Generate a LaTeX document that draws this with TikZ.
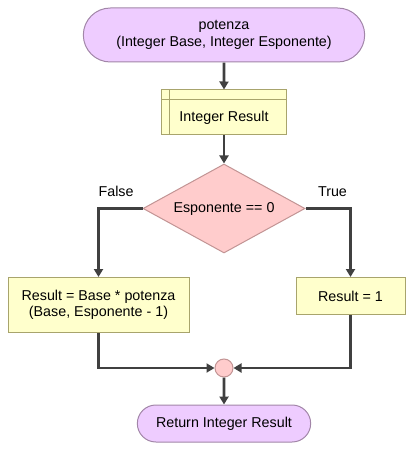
\documentclass[tikz,border=0pt]{standalone}
\usepackage{fontspec}
\setmainfont{Liberation Sans}
\usetikzlibrary{shapes.geometric,shapes.misc}
\usetikzlibrary{arrows.meta}
\usetikzlibrary{positioning}
\definecolor{termfill}{HTML}{EECCFF}
\definecolor{termline}{HTML}{A286A8}
\definecolor{procfill}{HTML}{FFFFCC}
\definecolor{procline}{HTML}{A8A46C}
\definecolor{decfill}{HTML}{FFCCCC}
\definecolor{decline}{HTML}{C29494}
\definecolor{flowline}{HTML}{404040}
\tikzset{auto,>={Triangle[length=8pt,width=9pt]}, font=\fontsize{14.3}{16.5}\selectfont}
\tikzstyle{terminal} = [draw=termline, fill=termfill, line width=1pt, rounded rectangle, minimum height=37pt, text centered, align=center]
\tikzstyle{declare} = [draw=procline, fill=procfill, line width=1pt, rectangle, minimum width=125pt, minimum height=45pt, text height=22pt, text depth=3pt]
\tikzstyle{process} = [draw=procline, fill=procfill, line width=1pt, rectangle, text centered, align=center]
\tikzstyle{decision} = [draw=decline, fill=decfill, line width=1pt, diamond, aspect=1.82, inner sep=1pt, minimum width=162pt, minimum height=89pt]
\tikzstyle{merge} = [draw=decline, fill=decfill, line width=1pt, circle, minimum size=18pt, inner sep=0pt]
\tikzstyle{flow} = [->, draw=flowline, line width=2.6pt]

\begin{document}
\begin{tikzpicture}[x=1pt,y=-1pt]
    \useasboundingbox (0,0) rectangle (413,449);
    \node [terminal, minimum width=288pt, minimum height=54pt] (start) at (224,35) {potenza\\(Integer Base, Integer Esponente)};
    \node [declare, below=27pt of start] (result) {Integer Result};
    \node [decision, below=28pt of result] (check) {Esponente == 0};
    \node [process, anchor=north, minimum width=181pt, minimum height=55pt] (recurse) at (98.5,277) {Result = Base * potenza\\(Base, Esponente - 1)};
    \node [process, anchor=north, minimum width=109pt, minimum height=37pt] (base) at (350.5,277) {Result = 1};
    \node [merge] (join) at (224,368) {};
    \node [terminal, minimum width=180pt, below=27pt of join] (ret) {Return Integer Result};

    % header lines of the declare block
    \draw [procline, line width=1pt] ([xshift=8pt]result.north west) -- ([xshift=8pt]result.south west);
    \draw [procline, line width=1pt] ([yshift=-10pt]result.north west) -- ([yshift=-10pt]result.north east);

    \draw [flow] (start) -- (result);
    \draw [flow] (result) -- (check);
    \draw [flow] (check.west) -| node [above=7pt, pos=0.3] {False} (recurse);
    \draw [flow] (check.east) -| node [above=7pt, pos=0.3] {True} (base);
    \draw [flow] (recurse) |- (join);
    \draw [flow] (base) |- (join);
    \draw [flow] (join) -- (ret);
\end{tikzpicture}
\end{document}
